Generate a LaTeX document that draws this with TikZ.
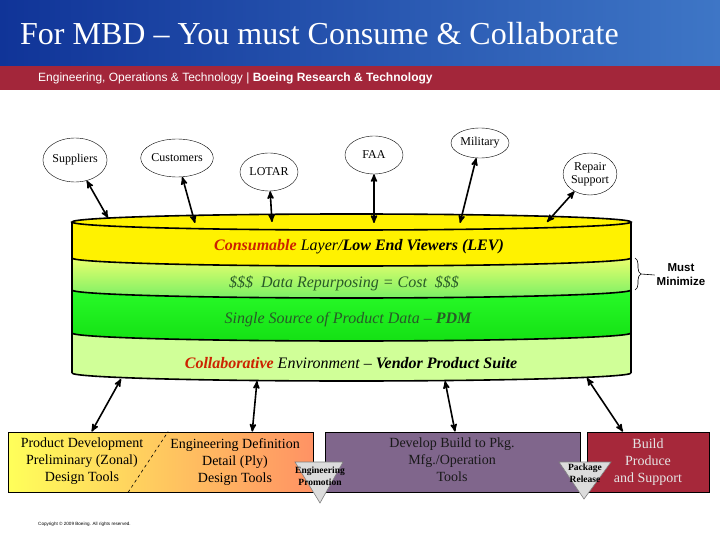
\documentclass[tikz,border=0pt]{standalone}
\usepackage{fontspec}
\setmainfont{Liberation Serif}
\newfontfamily\arialfont{Liberation Sans}
\usepackage{tikz}
\usetikzlibrary{arrows, calc, shapes.geometric, decorations.pathreplacing}

\definecolor{hdrblueL}{RGB}{16,52,152}
\definecolor{hdrblueR}{RGB}{62,118,198}
\definecolor{hdrred}{RGB}{163,38,58}
\definecolor{consred}{RGB}{204,34,0}
\definecolor{leafgreen}{RGB}{40,90,40}
\definecolor{paleA}{RGB}{234,255,110}
\definecolor{paleB}{RGB}{120,240,100}
\definecolor{pdmA}{RGB}{40,250,40}
\definecolor{pdmB}{RGB}{20,225,20}
\definecolor{collgreen}{RGB}{208,255,152}
\definecolor{toolyel}{RGB}{255,255,90}
\definecolor{toolorg}{RGB}{255,146,100}
\definecolor{mfgpurple}{RGB}{128,102,140}
\definecolor{buildred}{RGB}{166,40,58}
\definecolor{gategray}{RGB}{220,220,220}

\begin{document}
\begin{tikzpicture}[x=1pt,y=1pt,inner sep=2pt,
        party/.style={draw,ellipse,inner sep=0pt,align=center,
            font=\fontsize{12}{13}\selectfont},
        link/.style={<->,>=stealth',line width=1.6pt},
        layertext/.style={font=\fontsize{16}{18}\selectfont\itshape},
        toolbox/.style={rectangle,draw,line width=0.8pt,inner sep=0pt,
            minimum height=60pt},
        tooltext/.style={align=center,font=\fontsize{14}{17}\selectfont},
        gatetext/.style={align=center,inner sep=0pt,
            font=\fontsize{9.5}{12.5}\selectfont\bfseries},
        gate/.style={fill=gategray,draw=gray,line width=0.6pt}]
    \useasboundingbox (0,0) rectangle (720,-540);
    % banner
    \shade [left color=hdrblueL,right color=hdrblueR] (0,0) rectangle (720,-66);
    \fill [hdrred] (0,-66) rectangle (720,-90);
    \node [anchor=base west,text=white,font=\fontsize{32}{34}\selectfont]
        (title) at (18,-45) {For MBD -- You must Consume \& Collaborate};
    \node [anchor=base west,text=white,font=\arialfont\fontsize{12}{14}\selectfont]
        (subtitle) at (36,-82)
        {Engineering, Operations \& Technology | \textbf{Boeing Research \& Technology}};

    % the cylinder, bottom band first
    \fill [collgreen] (72,-333) -- (72,-373)
        arc[start angle=180,end angle=360,x radius=279.5,y radius=8]
        -- (631,-333) arc[start angle=360,end angle=180,x radius=279.5,y radius=8]
        -- cycle;
    \shade [top color=pdmA,bottom color=pdmB] (72,-290) -- (72,-333)
        arc[start angle=180,end angle=360,x radius=279.5,y radius=8]
        -- (631,-290) arc[start angle=360,end angle=180,x radius=279.5,y radius=8]
        -- cycle;
    \shade [top color=paleA,bottom color=paleB] (72,-258) -- (72,-290)
        arc[start angle=180,end angle=360,x radius=279.5,y radius=8]
        -- (631,-258) arc[start angle=360,end angle=180,x radius=279.5,y radius=8]
        -- cycle;
    \fill [yellow] (72,-222) -- (72,-258)
        arc[start angle=180,end angle=360,x radius=279.5,y radius=8]
        -- (631,-222) arc[start angle=360,end angle=180,x radius=279.5,y radius=8]
        -- cycle;
    \draw [fill=yellow,line width=1.6pt] (351.5,-222) ellipse [x radius=279.5,y radius=8];
    \foreach \yb in {258,290,333,373}
        \draw [line width=1.6pt] (72,-\yb)
            arc[start angle=180,end angle=360,x radius=279.5,y radius=8];
    \draw [line width=2.2pt] (72,-222) -- (72,-373);
    \draw [line width=2.2pt] (631,-222) -- (631,-373);

    \node [layertext] (lev) at (359,-247)
        {\textcolor{consred}{\textbf{Consumable}} Layer/\textbf{Low End Viewers (LEV)}};
    \node [layertext,text=leafgreen] (repurp) at (344,-283)
        {\$\$\$~ Data Repurposing = Cost ~\$\$\$};
    \node [layertext,text=leafgreen] (pdm) at (348,-320)
        {Single Source of Product Data -- \textbf{PDM}};
    \node [layertext] (vps) at (351,-363)
        {\textcolor{consred}{\textbf{Collaborative}} Environment --
         \textbf{Vendor Product Suite}};

    % must minimize
    \draw [decorate,decoration={brace,amplitude=6pt},line width=0.6pt]
        (635,-258) -- (635,-290);
    \node [align=center,font=\arialfont\bfseries\fontsize{11.5}{14}\selectfont]
        (mustmin) at (681,-275) {Must\\Minimize};
    \draw [line width=0.6pt] (641,-274) -- (mustmin.west);

    % outside parties
    \node [party,minimum width=62pt,minimum height=44pt] (suppliers) at (75,-160) {Suppliers};
    \node [party,minimum width=58pt,minimum height=38pt] (customers) at (177,-158) {Customers};
    \node [party,minimum width=58pt,minimum height=38pt] (lotar) at (269,-172) {LOTAR};
    \node [party,minimum width=58pt,minimum height=38pt] (faa) at (374,-155) {FAA};
    \node [party,minimum width=58pt,minimum height=30pt] (military) at (480,-143) {Military};
    \node [party,minimum width=50pt,minimum height=42pt] (repair) at (590,-174)
        {Repair\\Support};

    \coordinate (supTop) at (108,-218);
    \coordinate (cusTop) at (195,-223);
    \coordinate (lotTop) at (272,-222);
    \coordinate (faaTop) at (374,-223);
    \coordinate (milTop) at (460,-223);
    \coordinate (repTop) at (547,-222);
    \draw [link] (suppliers) -- (supTop);
    \draw [link] (customers) -- (cusTop);
    \draw [link] (lotar) -- (lotTop);
    \draw [link] (faa) -- (faaTop);
    \draw [link] (military) -- (milTop);
    \draw [link] (repair) -- (repTop);

    % tool boxes
    \node [toolbox,left color=toolyel,right color=toolorg,minimum width=305pt]
        (design) at (160.5,-462) {};
    \node [toolbox,fill=mfgpurple,minimum width=255pt] (develop) at (452.5,-462) {};
    \node [toolbox,fill=buildred,minimum width=122pt] (build) at (648,-462) {};
    \draw [dashed,line width=0.6pt] ($ (design.south west)!0.394!(design.south east) $)
        -- ($ (design.north west)!0.525!(design.north east) $);
    \node [tooltext] (prelim) at (82,-461)
        {Product Development\\Preliminary (Zonal)\\Design Tools};
    \node [tooltext] (engdef) at (235,-462)
        {Engineering Definition\\Detail (Ply)\\Design Tools};
    \node [tooltext,text=black!90] (mfgtools) at (452,-460)
        {Develop Build to Pkg.\\Mfg./Operation\\Tools};
    \node [tooltext,text=black!10] (produce) at (648,-462)
        {Build\\Produce\\and Support};

    \coordinate (cylB1) at (121,-379);
    \coordinate (cylB2) at (257,-381);
    \coordinate (cylB3) at (445,-381);
    \coordinate (cylB4) at (587,-378);
    \draw [link] (cylB1) -- ($ (design.north west)!0.275!(design.north east) $);
    \draw [link] (cylB2) -- ($ (design.north west)!0.8!(design.north east) $);
    \draw [link] (cylB3) -- ($ (develop.north west)!0.51!(develop.north east) $);
    \draw [link] (cylB4) -- ($ (build.north west)!0.295!(build.north east) $);

    % gates
    \draw [gate] (295,-462) -- (343,-462) -- (320,-503) -- cycle;
    \node [gatetext] (engpromo) at (320,-476) {Engineering\\Promotion};
    \draw [gate] (559,-462) -- (611,-462) -- (584,-499) -- cycle;
    \node [gatetext] (pkgrel) at (585,-473) {Package\\Release};

    \node [anchor=west,font=\arialfont\fontsize{4.6}{5}\selectfont]
        (copyright) at (36,-524) {Copyright \copyright{} 2009 Boeing. All rights reserved.};
\end{tikzpicture}
\end{document}
